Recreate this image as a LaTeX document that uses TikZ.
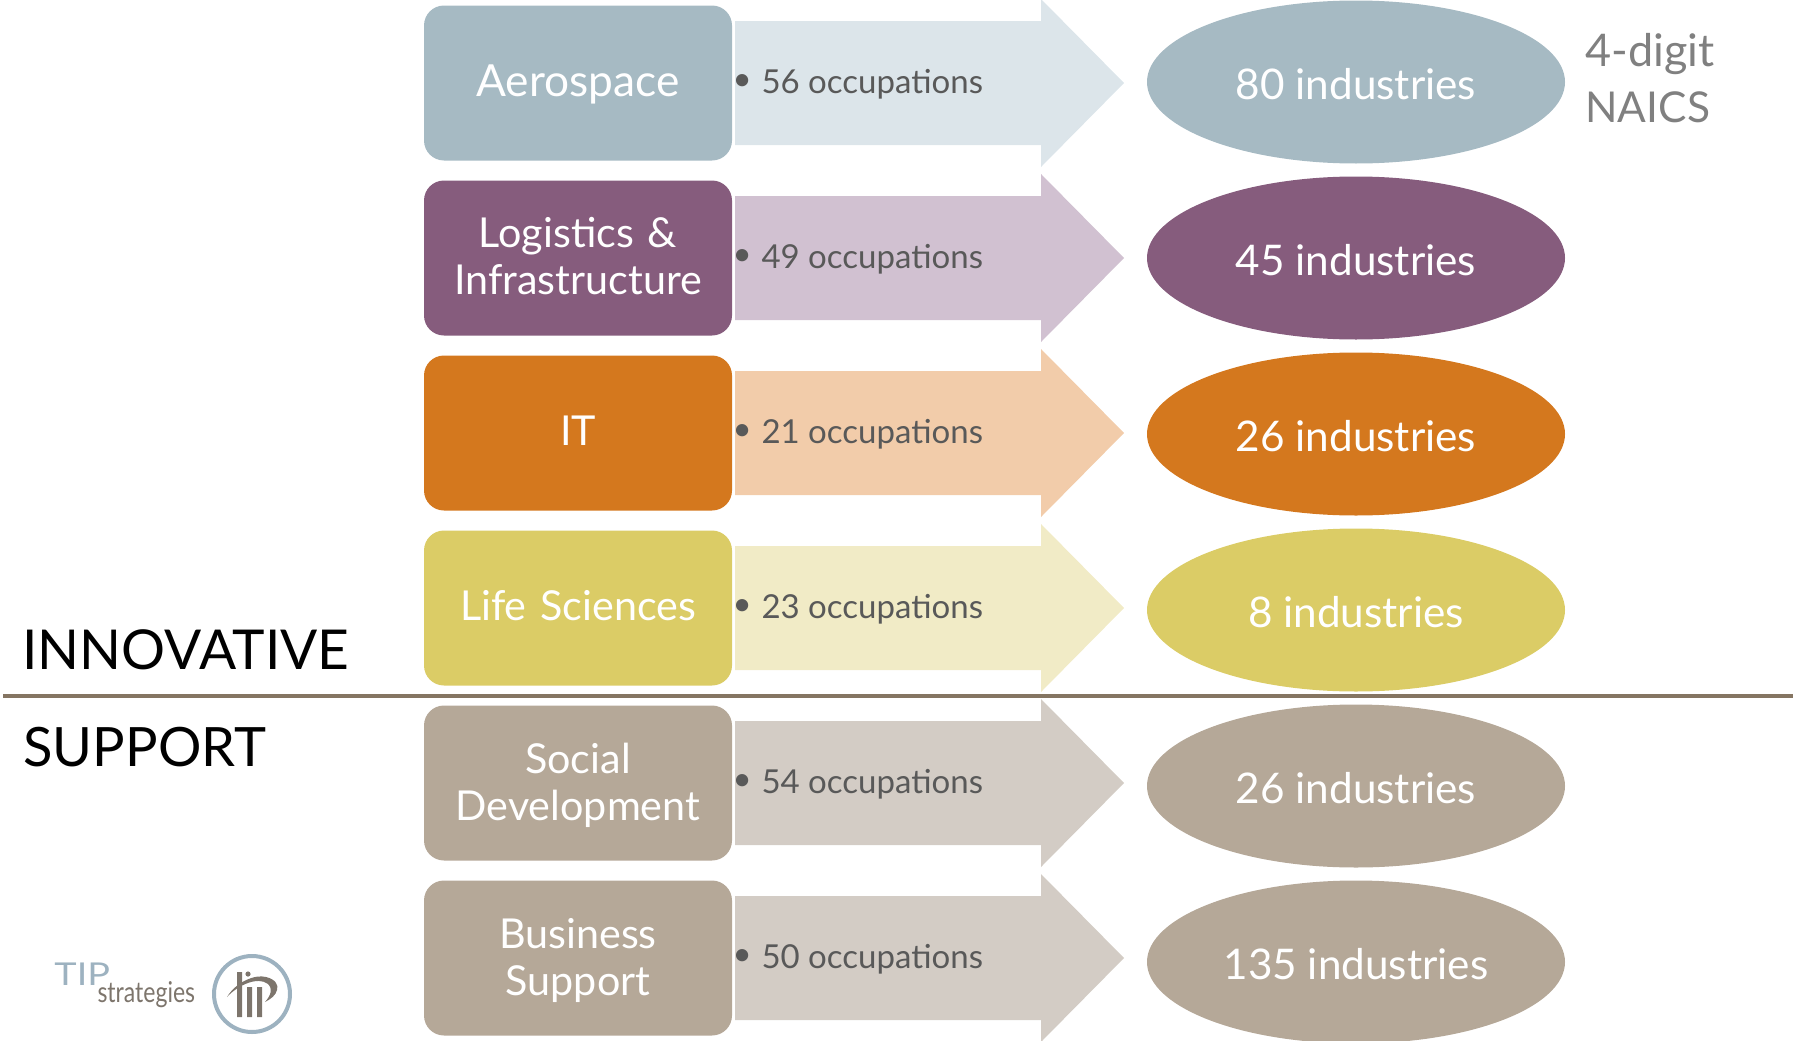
\documentclass[tikz,border=0pt]{standalone}
\usepackage{fontspec}
\setmainfont{Lato}
\definecolor{cA}{HTML}{A6BAC3}\definecolor{lA}{HTML}{DCE5EA}
\definecolor{cB}{HTML}{865C7D}\definecolor{lB}{HTML}{D1C1D1}
\definecolor{cC}{HTML}{D4781E}\definecolor{lC}{HTML}{F2CCAA}
\definecolor{cD}{HTML}{DBCC66}\definecolor{lD}{HTML}{F1EBC6}
\definecolor{cE}{HTML}{B5A898}\definecolor{lE}{HTML}{D3CCC5}
\definecolor{rulecol}{HTML}{857562}\definecolor{logoblue}{HTML}{9DB2C0}\definecolor{logogrey}{HTML}{7D756C}
\newcommand{\fsz}[1]{\fontsize{#1}{#1}\selectfont}
\tikzset{x=0.4pt,y=-0.4pt,
 boxtxt/.style={text=white,align=center,font=\fontsize{16.5}{18.8}\selectfont,text width=115pt,inner sep=0pt},
 occ/.style={text=black!65,anchor=west,font=\fsz{13.2},inner sep=0pt},
 ind/.style={text=white,font=\fsz{16.9},inner sep=0pt},
 side/.style={text=black!50,anchor=west,font=\fsz{17},inner sep=0pt},
 band/.style={text=black,anchor=west,font=\fsz{22},inner sep=0pt}}
\newcommand{\rowitem}[7]{% id, ycentre, color, light, label, occ, label y offset
 \fill[#4] (735,#2-62) -- (1041,#2-62) -- (1041,#2-84) -- (1124,#2) -- (1041,#2+84) -- (1041,#2+62) -- (735,#2+62) -- cycle;
 \fill[#3,rounded corners=8pt] (424,#2-77.5) rectangle (732,#2+77.5);
 \node[boxtxt] (box#1) at (578,#2+#7) {#5};
 \node[occ] (occ#1) at (736,#2+1) {\makebox[10pt][l]{\hspace{-1.6pt}\raisebox{1pt}{\textbullet}}#6};
}
\newcommand{\rowend}[4]{\fill[#3] (1356,#2) ellipse [x radius=209,y radius=81.5];
 \node[ind] (ind#1) at (1356,#2+2.5) {#4};}
\begin{document}
\begin{tikzpicture}
\useasboundingbox (0,0) rectangle (1793,1040);
\rowitem{a}{83}{cA}{lA}{\fontsize{17.7}{18.8}\selectfont Aerospace}{56 occupations}{1.5}\rowend{a}{82}{cA}{80 industries}
\rowitem{b}{258}{cB}{lB}{Logistics \&\\Infrastructure}{49 occupations}{-1.5}\rowend{b}{258}{cB}{45 industries}
\rowitem{c}{433}{cC}{lC}{IT}{21 occupations}{-2.5}\rowend{c}{434}{cC}{26 industries}
\rowitem{d}{608}{cD}{lD}{Life Sciences}{23 occupations}{-2.5}\rowend{d}{610}{cD}{8 industries}
\rowitem{e}{783}{cE}{lE}{Social\\Development}{54 occupations}{2}\rowend{e}{786}{cE}{26 industries}
\rowitem{f}{958}{cE}{lE}{Business\\Support}{50 occupations}{2}\rowend{f}{962}{cE}{135 industries}
\node[side,font=\fsz{18}] (dig) at (1585,54) {4-digit};
\node[side] (nai) at (1585,107) {NAICS};
\coordinate (ruleL) at (3,696);\coordinate (ruleR) at (1793,696);
\draw[rulecol,line width=1.5pt] (ruleL) -- (ruleR);
\node[band] (inn) at (22,650) {INNOVATIVE};
\node[band,font=\fsz{21.7}] (sup) at (23,747) {SUPPORT};
% logo
\node[anchor=base west,inner sep=0pt,text=logoblue,font=\fsz{14}] (tip) at (54,985) {\scalebox{1.08}[.9]{TIP}};
\node[anchor=base west,inner sep=0pt,text=logogrey,font=\fsz{11.5}] (str) at (97,1002) {\scalebox{.8}[1]{strategies}};
\draw[logoblue,line width=1.6pt] (252,994) circle [radius=38];
\fill[logogrey] (237,972) rectangle (242,1017) (247,987) rectangle (252,1017) (257,987) rectangle (262,1017);
\fill[logogrey] (248,974) circle [radius=2.6];
\fill[logogrey] (227,997) .. controls (236,982) and (255,974) .. (266,977) .. controls (275,979) and (279,985) .. (277,990) .. controls (276,995) and (271,999) .. (265,1002) .. controls (271,995) and (273,989) .. (268,984) .. controls (258,976) and (238,985) .. (227,997) -- cycle;
\end{tikzpicture}
\end{document}
